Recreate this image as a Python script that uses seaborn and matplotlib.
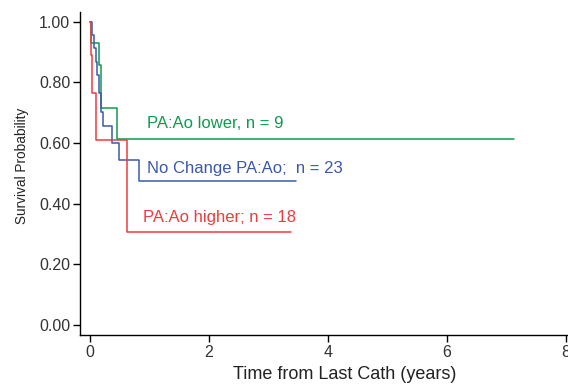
import matplotlib
matplotlib.use("Agg")
import matplotlib.pyplot as plt
import seaborn as sns
import pandas as pd

# Kaplan-Meier step data
green_t = [0, 0.02, 0.146, 0.18, 0.46, 7.13]
green_s = [1.0, 0.929, 0.857, 0.714, 0.612, 0.612]
blue_t = [0, 0.025, 0.067, 0.10, 0.12, 0.146, 0.18, 0.22, 0.375, 0.49, 0.83, 3.46]
blue_s = [1.0, 0.956, 0.912, 0.868, 0.824, 0.765, 0.703, 0.655, 0.600, 0.544, 0.476, 0.476]
red_t = [0, 0.01, 0.04, 0.095, 0.62, 3.38]
red_s = [1.0, 0.889, 0.764, 0.611, 0.306, 0.306]

groups = ["PA:Ao lower, n = 9", "No Change PA:Ao;  n = 23", "PA:Ao higher; n = 18"]
label_x = [0.955, 0.955, 0.89]
label_y = [0.663, 0.515, 0.353]
colors = ["#109a4e", "#3b58ad", "#ef3b3e"]
x_ticks = [0, 2, 4, 6, 8]
y_ticks = [0.0, 0.2, 0.4, 0.6, 0.8, 1.0]

df = pd.concat([
    pd.DataFrame({"t": green_t, "s": green_s, "g": groups[0]}),
    pd.DataFrame({"t": blue_t, "s": blue_s, "g": groups[1]}),
    pd.DataFrame({"t": red_t, "s": red_s, "g": groups[2]}),
], ignore_index=True)

sns.set_style("ticks")
plt.rcParams["font.family"] = ["Liberation Sans", "DejaVu Sans"]

fig = plt.figure(figsize=(5.68, 3.86), dpi=100)
ax = fig.add_axes([0.141, 0.132, 0.859, 0.837])

sns.lineplot(data=df, x="t", y="s", hue="g", hue_order=groups,
             palette=dict(zip(groups, colors)), drawstyle="steps-post",
             estimator=None, sort=False, legend=False, linewidth=1.1, ax=ax)

for txt, x, y, c in zip(groups, label_x, label_y, colors):
    ax.text(x, y, txt, color=c, fontsize=12, va="center", ha="left")

ax.set_xlim(-0.168, 8.03)
ax.set_ylim(-0.033, 1.032)
ax.set_xticks(x_ticks)
ax.set_xticklabels([str(v) for v in x_ticks])
ax.set_yticks(y_ticks)
ax.set_yticklabels([f"{v:.2f}" for v in y_ticks])
ax.tick_params(axis="both", direction="out", length=5, width=1, color="black",
               labelsize=11.5, labelcolor="#333333", pad=2)
ax.set_xlabel("Time from Last Cath (years)", fontsize=13, color="#222222")
ax.set_ylabel("Survival Probability", fontsize=9.8, color="#222222")
ax.xaxis.set_label_coords(0.543, -0.095)
ax.yaxis.set_label_coords(-0.105, 0.523)
for side in ["top", "right"]:
    ax.spines[side].set_visible(False)
for side in ["left", "bottom"]:
    ax.spines[side].set_color("black")
    ax.spines[side].set_linewidth(1)

fig.savefig("out.png", dpi=100)
